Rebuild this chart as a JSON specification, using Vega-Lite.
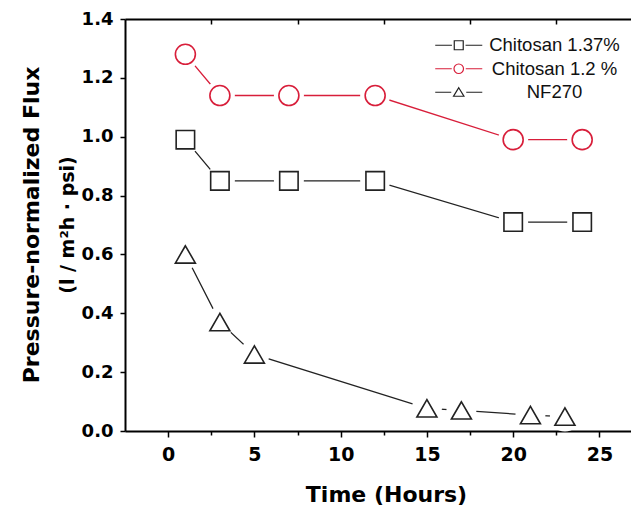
{
  "$schema": "https://vega.github.io/schema/vega-lite/v6.json",
  "width": 506,
  "height": 412,
  "autosize": {"type": "none"},
  "padding": {"left": 125, "top": 19, "right": 0, "bottom": 81},
  "background": "white",
  "config": {"view": {"stroke": null}},
  "title": {
    "text": "Pressure-normalized Flux",
    "subtitle": "(l / m²h · psi)",
    "orient": "left",
    "anchor": "middle",
    "font": "DejaVu Sans",
    "fontSize": 22,
    "fontWeight": "bold",
    "color": "black",
    "subtitleFont": "DejaVu Sans",
    "subtitleFontSize": 19,
    "subtitleFontWeight": "bold",
    "subtitleColor": "black",
    "subtitlePadding": 15,
    "offset": 2
  },
  "data": {
    "values": [
      {"series": "Chitosan 1.37%", "time": 1, "flux": 0.99},
      {"series": "Chitosan 1.37%", "time": 3, "flux": 0.85},
      {"series": "Chitosan 1.37%", "time": 7, "flux": 0.85},
      {"series": "Chitosan 1.37%", "time": 12, "flux": 0.85},
      {"series": "Chitosan 1.37%", "time": 20, "flux": 0.71},
      {"series": "Chitosan 1.37%", "time": 24, "flux": 0.71},
      {"series": "Chitosan 1.2 %", "time": 1, "flux": 1.28},
      {"series": "Chitosan 1.2 %", "time": 3, "flux": 1.14},
      {"series": "Chitosan 1.2 %", "time": 7, "flux": 1.14},
      {"series": "Chitosan 1.2 %", "time": 12, "flux": 1.14},
      {"series": "Chitosan 1.2 %", "time": 20, "flux": 0.99},
      {"series": "Chitosan 1.2 %", "time": 24, "flux": 0.99},
      {"series": "NF270", "time": 1, "flux": 0.6},
      {"series": "NF270", "time": 3, "flux": 0.37},
      {"series": "NF270", "time": 5, "flux": 0.26},
      {"series": "NF270", "time": 15, "flux": 0.077},
      {"series": "NF270", "time": 17, "flux": 0.07},
      {"series": "NF270", "time": 21, "flux": 0.054},
      {"series": "NF270", "time": 23, "flux": 0.049}
    ]
  },
  "resolve": {"axis": {"x": "independent"}},
  "layer": [
    {
      "transform": [{"filter": "datum.series !== 'Chitosan 1.2 %'"}],
      "mark": {"type": "line", "strokeWidth": 1.3, "color": "#222222"},
      "encoding": {
        "x": {
          "field": "time", "type": "quantitative",
          "scale": {"domain": [-2.5, 26.83], "nice": false, "zero": false},
          "axis": {
            "orient": "bottom",
            "values": [0, 2.5, 5, 7.5, 10, 12.5, 15, 17.5, 20, 22.5, 25],
            "labelExpr": "datum.value % 5 === 0 ? datum.label : ''",
            "tickSize": {"condition": {"test": "datum.value % 5 === 0", "value": 6}, "value": 4},
            "tickWidth": 1.5, "tickColor": "black",
            "domainColor": "black", "domainWidth": 2,
            "grid": false,
            "labelFont": "DejaVu Sans", "labelFontSize": 19, "labelFontWeight": "bold", "labelColor": "black",
            "labelPadding": 8, "labelFlush": false,
            "title": "Time (Hours)",
            "titleFont": "DejaVu Sans", "titleFontSize": 22, "titleFontWeight": "bold", "titleColor": "black",
            "titleX": 261, "titleY": 70, "titleBaseline": "alphabetic"
          }
        },
        "y": {
          "field": "flux", "type": "quantitative",
          "scale": {"domain": [0, 1.4], "nice": false, "zero": false},
          "axis": {
            "values": [0, 0.1, 0.2, 0.3, 0.4, 0.5, 0.6, 0.7, 0.8, 0.9, 1.0, 1.1, 1.2, 1.3, 1.4],
            "labelExpr": "round(datum.value*10) % 2 === 0 ? format(datum.value, '.1f') : ''",
            "tickSize": {"condition": {"test": "round(datum.value*10) % 2 === 0", "value": 5}, "value": 3},
            "tickWidth": 1.5, "tickColor": "black",
            "domainColor": "black", "domainWidth": 2,
            "grid": false,
            "labelFont": "DejaVu Sans", "labelFontSize": 18, "labelFontWeight": "bold", "labelColor": "black",
            "labelPadding": 7, "labelFlush": false,
            "title": null
          }
        },
        "detail": {"field": "series", "type": "nominal"}
      }
    },
    {
      "transform": [{"filter": "datum.series === 'Chitosan 1.2 %'"}],
      "mark": {"type": "line", "strokeWidth": 1.3, "color": "#d81e3a"},
      "encoding": {
        "x": {
          "field": "time", "type": "quantitative",
          "axis": {
            "orient": "top",
            "values": [2.5, 7.5, 12.5, 17.5, 22.5],
            "labels": false, "ticks": true, "domain": true,
            "tickSize": -5,
            "tickWidth": 1.5, "tickColor": "#000000", "tickOpacity": 1,
            "domainColor": "black", "domainWidth": 2,
            "grid": false, "title": null
          }
        },
        "y": {"field": "flux", "type": "quantitative"}
      }
    },
    {
      "mark": {"type": "point", "shape": "circle", "filled": true, "fill": "white", "opacity": 1, "size": 900, "strokeWidth": 0},
      "encoding": {
        "x": {"field": "time", "type": "quantitative", "axis": null},
        "y": {"field": "flux", "type": "quantitative"}
      }
    },
    {
      "transform": [{"filter": "datum.series === 'Chitosan 1.37%'"}],
      "mark": {"type": "point", "shape": "square", "filled": false, "size": 340, "strokeWidth": 1.6, "opacity": 1},
      "encoding": {
        "x": {"field": "time", "type": "quantitative", "axis": null},
        "y": {"field": "flux", "type": "quantitative"},
        "color": {
          "field": "series", "type": "nominal",
          "scale": {"domain": ["Chitosan 1.37%", "Chitosan 1.2 %", "NF270"], "range": ["#222222", "#d81e3a", "#222222"]},
          "legend": {
            "orient": "none", "legendX": 324.5, "legendY": 17,
            "title": null,
            "symbolSize": 196, "symbolStrokeWidth": 1.2, "symbolOpacity": 1,
            "labelFont": "Liberation Sans", "labelFontSize": 18.5, "labelColor": "#111111",
            "labelOffset": 86.5, "labelAlign": "center", "rowPadding": 4.5
          }
        }
      }
    },
    {
      "transform": [{"filter": "datum.series === 'Chitosan 1.2 %'"}],
      "mark": {"type": "point", "shape": "circle", "filled": false, "size": 400, "strokeWidth": 1.6, "opacity": 1},
      "encoding": {
        "x": {"field": "time", "type": "quantitative", "axis": null},
        "y": {"field": "flux", "type": "quantitative"},
        "color": {
          "field": "series", "type": "nominal",
          "scale": {"domain": ["Chitosan 1.37%", "Chitosan 1.2 %", "NF270"], "range": ["#222222", "#d81e3a", "#222222"]},
          "legend": {
            "orient": "none", "legendX": 324.5, "legendY": 17,
            "title": null,
            "symbolSize": 196, "symbolStrokeWidth": 1.2, "symbolOpacity": 1,
            "labelFont": "Liberation Sans", "labelFontSize": 18.5, "labelColor": "#111111",
            "labelOffset": 86.5, "labelAlign": "center", "rowPadding": 4.5
          }
        }
      }
    },
    {
      "transform": [{"filter": "datum.series === 'NF270'"}],
      "mark": {"type": "point", "shape": "triangle-up", "filled": false, "size": 400, "strokeWidth": 1.6, "opacity": 1},
      "encoding": {
        "x": {"field": "time", "type": "quantitative", "axis": null},
        "y": {"field": "flux", "type": "quantitative"},
        "color": {
          "field": "series", "type": "nominal",
          "scale": {"domain": ["Chitosan 1.37%", "Chitosan 1.2 %", "NF270"], "range": ["#222222", "#d81e3a", "#222222"]},
          "legend": {
            "orient": "none", "legendX": 324.5, "legendY": 17,
            "title": null,
            "symbolSize": 196, "symbolStrokeWidth": 1.2, "symbolOpacity": 1,
            "labelFont": "Liberation Sans", "labelFontSize": 18.5, "labelColor": "#111111",
            "labelOffset": 86.5, "labelAlign": "center", "rowPadding": 4.5
          }
        }
      }
    },
    {
      "mark": {"type": "point", "filled": false, "size": 1, "strokeWidth": 0, "opacity": 0},
      "encoding": {
        "x": {"field": "time", "type": "quantitative", "axis": null},
        "y": {"field": "flux", "type": "quantitative"},
        "shape": {
          "field": "series", "type": "nominal",
          "scale": {
            "domain": ["Chitosan 1.37%", "Chitosan 1.2 %", "NF270"],
            "range": [
              "M-3.36,0L-0.97,0M0.97,0L3.36,0M-0.64,-0.64L0.64,-0.64L0.64,0.64L-0.64,0.64Z",
              "M-3.36,0L-1,0M1,0L3.36,0M0.68,0A0.68,0.68,0,1,1,-0.68,0A0.68,0.68,0,1,1,0.68,0Z",
              "M-3.36,0L-1.07,0M1.07,0L3.36,0M0,-0.64L0.74,0.57L-0.74,0.57Z"
            ]
          },
          "legend": {
            "orient": "none", "legendX": 324.5, "legendY": 17,
            "title": null,
            "symbolSize": 196, "symbolStrokeWidth": 1.2, "symbolOpacity": 1,
            "labelFont": "Liberation Sans", "labelFontSize": 18.5, "labelColor": "#111111",
            "labelOffset": 86.5, "labelAlign": "center", "rowPadding": 4.5
          }
        }
      }
    }
  ]
}
